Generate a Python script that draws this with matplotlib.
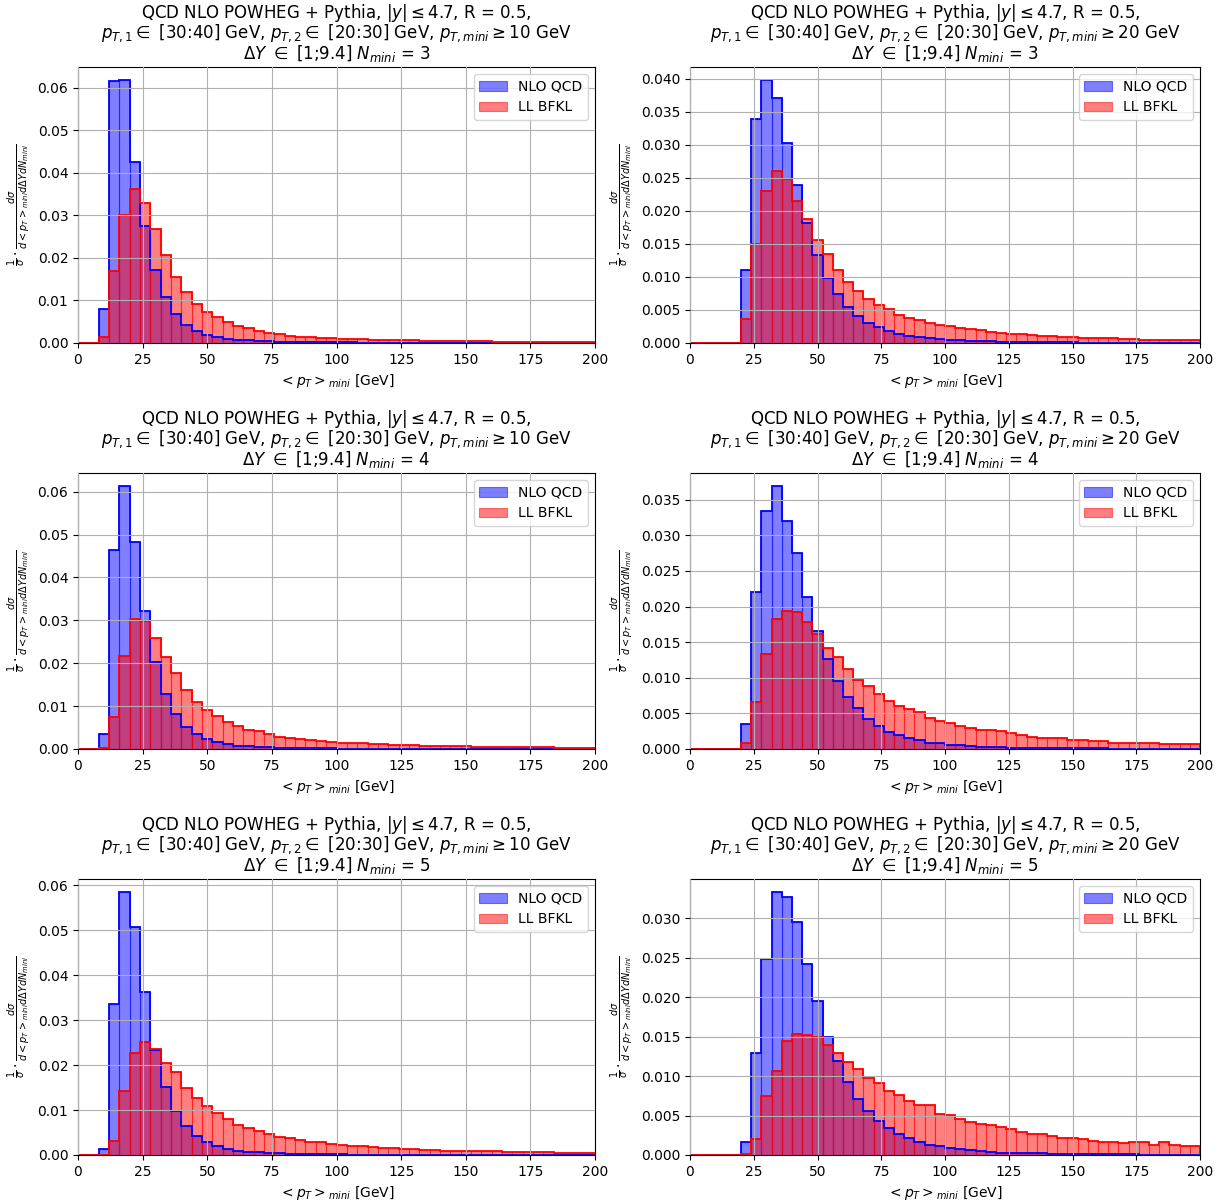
import numpy as np
import matplotlib
matplotlib.use('Agg')
import matplotlib.pyplot as plt

# bin edges of <pT>_mini, 4 GeV wide
edges = np.arange(0, 201, 4)
centers = (edges[:-1] + edges[1:]) / 2

pt_min = [10, 20]
n_mini = [3, 4, 5]

# NLO QCD (blue) and LL BFKL (red) histograms, one per panel
nlo_n3_10 = [0, 0, 0.0080, 0.0616, 0.0618, 0.0425, 0.0275, 0.0171, 0.0109, 0.0069,
             0.0043, 0.0029, 0.0019, 0.0013, 0.0010, 0.0008, 0.0006, 0.0005, 0.0004, 0.00035,
             0.0003, 0.00025, 0.0002, 0.00018, 0.00015, 0.00013, 0.00012, 0.0001, 0.00009, 0.00008,
             0.00007, 0.00006, 0.00005, 0.00005, 0.00004, 0.00004, 0.00003, 0.00003, 0.00003, 0.00002,
             0.00002, 0.00002, 0.00002, 0.00001, 0.00001, 0.00001, 0.00001, 0.00001, 0.00001, 0.00001]
bfkl_n3_10 = [0, 0, 0.0013, 0.0169, 0.0302, 0.0361, 0.0328, 0.0269, 0.0206, 0.0155,
              0.0120, 0.0092, 0.0074, 0.0061, 0.0049, 0.0040, 0.0035, 0.0029, 0.0024, 0.0021,
              0.0017, 0.0015, 0.0013, 0.0012, 0.0011, 0.0010, 0.0009, 0.00085, 0.0008, 0.00075,
              0.0007, 0.00065, 0.0006, 0.00055, 0.0005, 0.00048, 0.00045, 0.00042, 0.0004, 0.00037,
              0.00035, 0.00033, 0.0003, 0.00028, 0.00026, 0.00025, 0.00023, 0.00022, 0.0002, 0.0002]

nlo_n3_20 = [0, 0, 0, 0, 0, 0.0110, 0.0339, 0.0398, 0.0371, 0.0303,
             0.0239, 0.0182, 0.0134, 0.0099, 0.0074, 0.0055, 0.0041, 0.0031, 0.0024, 0.0018,
             0.0014, 0.0011, 0.0009, 0.0007, 0.0006, 0.0005, 0.0004, 0.00035, 0.0003, 0.00025,
             0.0002, 0.00018, 0.00016, 0.00014, 0.00012, 0.0001, 0.00009, 0.00008, 0.00007, 0.00006,
             0.00005, 0.00005, 0.00004, 0.00004, 0.00003, 0.00003, 0.00003, 0.00002, 0.00002, 0.00002]
bfkl_n3_20 = [0, 0, 0, 0, 0, 0.0036, 0.0150, 0.0230, 0.0260, 0.0249,
              0.0215, 0.0187, 0.0156, 0.0135, 0.0111, 0.0093, 0.0079, 0.0067, 0.0058, 0.0051,
              0.0043, 0.0038, 0.0035, 0.0031, 0.0028, 0.0026, 0.0023, 0.0021, 0.0019, 0.0017,
              0.0015, 0.0014, 0.0013, 0.0012, 0.0011, 0.0010, 0.0009, 0.0009, 0.0008, 0.0008,
              0.0007, 0.0007, 0.0006, 0.0006, 0.0005, 0.0005, 0.0005, 0.0004, 0.0004, 0.0004]

nlo_n4_10 = [0, 0, 0.0034, 0.0463, 0.0613, 0.0483, 0.0321, 0.0203, 0.0128, 0.0081,
             0.0052, 0.0034, 0.0023, 0.0016, 0.0011, 0.0008, 0.0006, 0.0005, 0.0004, 0.0003,
             0.00025, 0.0002, 0.00018, 0.00015, 0.00012, 0.0001, 0.00009, 0.00008, 0.00007, 0.00006,
             0.00005, 0.00005, 0.00004, 0.00004, 0.00003, 0.00003, 0.00003, 0.00002, 0.00002, 0.00002,
             0.00002, 0.00001, 0.00001, 0.00001, 0.00001, 0.00001, 0.00001, 0.00001, 0.00001, 0.00001]
bfkl_n4_10 = [0, 0, 0.0002, 0.0074, 0.0217, 0.0304, 0.0299, 0.0260, 0.0215, 0.0178,
              0.0138, 0.0110, 0.0092, 0.0076, 0.0064, 0.0054, 0.0045, 0.0041, 0.0034, 0.0029,
              0.0026, 0.0023, 0.0020, 0.0019, 0.0016, 0.0015, 0.0014, 0.0013, 0.0012, 0.0011,
              0.0010, 0.0009, 0.00085, 0.0008, 0.00075, 0.0007, 0.00065, 0.0006, 0.00057, 0.00054,
              0.0005, 0.00047, 0.00044, 0.0004, 0.00037, 0.00035, 0.00032, 0.0003, 0.00028, 0.00026]

nlo_n4_20 = [0, 0, 0, 0, 0, 0.0035, 0.0221, 0.0334, 0.0369, 0.0320,
             0.0275, 0.0214, 0.0166, 0.0126, 0.0096, 0.0073, 0.0057, 0.0042, 0.0032, 0.0024,
             0.0019, 0.0016, 0.0012, 0.0009, 0.0008, 0.0006, 0.0005, 0.0004, 0.0003, 0.0003,
             0.00025, 0.0002, 0.0002, 0.00018, 0.00015, 0.00013, 0.00012, 0.0001, 0.0001, 0.00009,
             0.00008, 0.00007, 0.00006, 0.00006, 0.00005, 0.00005, 0.00004, 0.00004, 0.00003, 0.00003]
bfkl_n4_20 = [0, 0, 0, 0, 0, 0.0008, 0.0066, 0.0133, 0.0183, 0.0194,
              0.0193, 0.0178, 0.0161, 0.0142, 0.0129, 0.0113, 0.0097, 0.0088, 0.0077, 0.0068,
              0.0061, 0.0056, 0.0052, 0.0043, 0.0039, 0.0036, 0.0032, 0.0030, 0.0027, 0.0027,
              0.0025, 0.0022, 0.0019, 0.0017, 0.0016, 0.0015, 0.0015, 0.0012, 0.0012, 0.0011,
              0.0011, 0.0009, 0.0009, 0.00087, 0.0008, 0.0008, 0.0007, 0.0007, 0.0007, 0.0007]

nlo_n5_10 = [0, 0, 0.0013, 0.0336, 0.0585, 0.0507, 0.0362, 0.0233, 0.0151, 0.0097,
             0.0064, 0.0042, 0.0029, 0.0020, 0.0014, 0.0010, 0.0007, 0.0006, 0.0004, 0.0004,
             0.0003, 0.00025, 0.0002, 0.00018, 0.00015, 0.00013, 0.00011, 0.0001, 0.00009, 0.00008,
             0.00007, 0.00006, 0.00005, 0.00005, 0.00004, 0.00004, 0.00003, 0.00003, 0.00003, 0.00002,
             0.00002, 0.00002, 0.00002, 0.00002, 0.00001, 0.00001, 0.00001, 0.00001, 0.00001, 0.00001]
bfkl_n5_10 = [0, 0, 0.0001, 0.0032, 0.0143, 0.0227, 0.0251, 0.0236, 0.0204, 0.0184,
              0.0150, 0.0127, 0.0110, 0.0093, 0.0080, 0.0066, 0.0060, 0.0054, 0.0046, 0.0040,
              0.0038, 0.0034, 0.0030, 0.0028, 0.0025, 0.0023, 0.0020, 0.0019, 0.0017, 0.0016,
              0.0015, 0.0014, 0.0013, 0.0012, 0.0011, 0.0010, 0.0010, 0.0009, 0.0009, 0.0008,
              0.0008, 0.0007, 0.0007, 0.00065, 0.0006, 0.0006, 0.00055, 0.0005, 0.0005, 0.00045]

nlo_n5_20 = [0, 0, 0, 0, 0, 0.0017, 0.0129, 0.0248, 0.0333, 0.0327,
             0.0295, 0.0242, 0.0195, 0.0150, 0.0119, 0.0092, 0.0071, 0.0056, 0.0043, 0.0034,
             0.0027, 0.0022, 0.0017, 0.0013, 0.0011, 0.0009, 0.0007, 0.0006, 0.0005, 0.0004,
             0.0003, 0.0003, 0.00025, 0.0002, 0.0002, 0.00018, 0.00015, 0.00013, 0.00012, 0.0001,
             0.0001, 0.00009, 0.00008, 0.00007, 0.00006, 0.00006, 0.00005, 0.00005, 0.00004, 0.00004]
bfkl_n5_20 = [0, 0, 0, 0, 0, 0.0001, 0.0020, 0.0075, 0.0106, 0.0145,
              0.0153, 0.0152, 0.0149, 0.0139, 0.0129, 0.0118, 0.0109, 0.0097, 0.0091, 0.0081,
              0.0076, 0.0069, 0.0063, 0.0063, 0.0052, 0.0051, 0.0045, 0.0042, 0.0039, 0.0038,
              0.0036, 0.0033, 0.0029, 0.0027, 0.0026, 0.0024, 0.0021, 0.0021, 0.0020, 0.0018,
              0.0016, 0.0016, 0.0015, 0.0016, 0.0016, 0.0013, 0.0016, 0.0013, 0.0011, 0.0011]

nlo = [[nlo_n3_10, nlo_n3_20], [nlo_n4_10, nlo_n4_20], [nlo_n5_10, nlo_n5_20]]
bfkl = [[bfkl_n3_10, bfkl_n3_20], [bfkl_n4_10, bfkl_n4_20], [bfkl_n5_10, bfkl_n5_20]]

W, H = 1228, 1201
fig, axes = plt.subplots(3, 2, figsize=(W / 100, H / 100), dpi=100)

# axes boxes in pixels: (left, width) per column, top per row
cols = [(78, 517), (690, 510)]
tops = [67, 473, 879]
ax_h = 276

for i in range(3):
    for j in range(2):
        ax = axes[i, j]
        x0, w = cols[j]
        ax.set_position([x0 / W, 1 - (tops[i] + ax_h) / H, w / W, ax_h / H])
        # filled bars (alpha) + solid outline
        ax.hist(centers, bins=edges, weights=nlo[i][j], color='blue', alpha=0.5,
                edgecolor='blue', linewidth=0.8, label='NLO QCD')
        ax.hist(centers, bins=edges, weights=bfkl[i][j], color='red', alpha=0.5,
                edgecolor='red', linewidth=0.8, label='LL BFKL')
        ax.hist(centers, bins=edges, weights=nlo[i][j], histtype='step', color='blue', linewidth=1.3)
        ax.hist(centers, bins=edges, weights=bfkl[i][j], histtype='step', color='red', linewidth=1.3)
        ax.set_xlim(0, 200)
        ax.grid(True)
        ax.set_axisbelow(False)
        ax.legend(loc='upper right', fontsize=10)
        ax.set_title("QCD NLO POWHEG + Pythia, $|y| \\leq 4.7$, R = 0.5,\n"
                     "$p_{T,1} \\in$ [30:40] GeV, $p_{T,2} \\in$ [20:30] GeV, "
                     "$p_{T,mini} \\geq %d$ GeV\n" % pt_min[j] +
                     "$\\Delta Y$ $\\in$ [1;9.4] $N_{mini}$ = %d" % n_mini[i],
                     fontsize=12, linespacing=0.92)
        ax.set_xlabel(r'$<p_T>_{mini}$ [GeV]', fontsize=10)
        ax.set_ylabel(r'$\frac{1}{\sigma} \cdot \frac{d\sigma}{d<p_T>_{mini} d\Delta Y dN_{mini}}$',
                      fontsize=10)

plt.savefig('out.png')
